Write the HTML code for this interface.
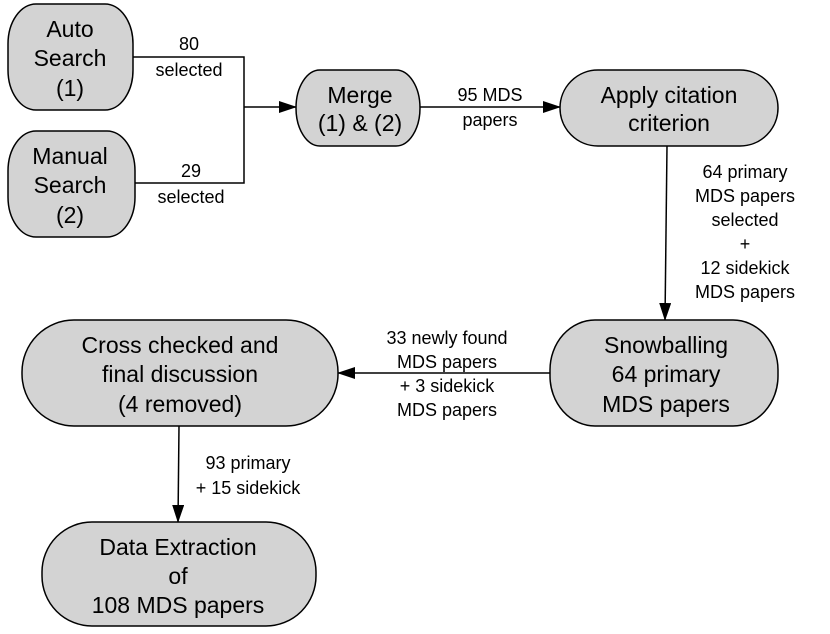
<!DOCTYPE html>
<html><head><style>
html,body{margin:0;padding:0;background:#fff;}
svg{display:block;}
text{font-family:"Liberation Sans",Helvetica,sans-serif;fill:#000;}
.n{font-size:23px;text-anchor:middle;}
.l{font-size:18px;text-anchor:middle;}
rect{fill:#d3d3d3;stroke:#000;stroke-width:1.5;}
line,polyline{stroke:#000;stroke-width:1.5;fill:none;}
</style></head><body>
<svg width="830" height="634" viewBox="0 0 830 634">
<defs><marker id="b" markerWidth="18" markerHeight="12" refX="17" refY="6" orient="auto" markerUnits="userSpaceOnUse"><path d="M0,0 L18,6 L0,12 z" fill="#000"/></marker></defs>

<rect x="8" y="4" width="125" height="106" rx="28" ry="40"/>
<text class="n" x="70" y="37">Auto</text><text class="n" x="70" y="66">Search</text><text class="n" x="70" y="96">(1)</text>
<rect x="8" y="131" width="127" height="106" rx="28" ry="40"/>
<text class="n" x="70" y="164">Manual</text><text class="n" x="70" y="193">Search</text><text class="n" x="70" y="223">(2)</text>

<polyline points="133,57 244,57 244,183 135,183"/>
<text class="l" x="189" y="50">80</text><text class="l" x="189" y="76">selected</text>
<text class="l" x="191" y="177">29</text><text class="l" x="191" y="203">selected</text>
<line x1="244" y1="107" x2="296" y2="107" marker-end="url(#b)"/>

<rect x="296" y="70" width="124" height="76" rx="24" ry="38"/>
<text class="n" x="360" y="103">Merge</text><text class="n" x="360" y="131">(1) &amp; (2)</text>

<line x1="420" y1="107" x2="560" y2="107" marker-end="url(#b)"/>
<text class="l" x="490" y="101">95 MDS</text><text class="l" x="490" y="126">papers</text>

<rect x="560" y="70" width="218" height="76" rx="38" ry="38"/>
<text class="n" x="669" y="103">Apply citation</text><text class="n" x="669" y="131">criterion</text>

<line x1="667" y1="146" x2="665" y2="320" marker-end="url(#b)"/>
<text class="l" x="745" y="178">64 primary</text><text class="l" x="745" y="202">MDS papers</text><text class="l" x="745" y="226">selected</text><text class="l" x="745" y="250">+</text><text class="l" x="745" y="274">12 sidekick</text><text class="l" x="745" y="298">MDS papers</text>

<rect x="550" y="320" width="228" height="106" rx="45" ry="50"/>
<text class="n" x="666" y="353">Snowballing</text><text class="n" x="666" y="382">64 primary</text><text class="n" x="666" y="412">MDS papers</text>

<line x1="550" y1="373" x2="338" y2="373" marker-end="url(#b)"/>
<text class="l" x="447" y="344">33 newly found</text><text class="l" x="447" y="368">MDS papers</text><text class="l" x="447" y="392">+ 3 sidekick</text><text class="l" x="447" y="416">MDS papers</text>

<rect x="22" y="320" width="316" height="106" rx="52" ry="52"/>
<text class="n" x="180" y="353">Cross checked and</text><text class="n" x="180" y="382">final discussion</text><text class="n" x="180" y="412">(4 removed)</text>

<line x1="179" y1="426" x2="178" y2="522" marker-end="url(#b)"/>
<text class="l" x="248" y="469">93 primary</text><text class="l" x="248" y="494">+ 15 sidekick</text>

<rect x="42" y="522" width="274" height="104" rx="50" ry="50"/>
<text class="n" x="178" y="555">Data Extraction</text><text class="n" x="178" y="584">of</text><text class="n" x="178" y="613">108 MDS papers</text>
</svg>
</body></html>
